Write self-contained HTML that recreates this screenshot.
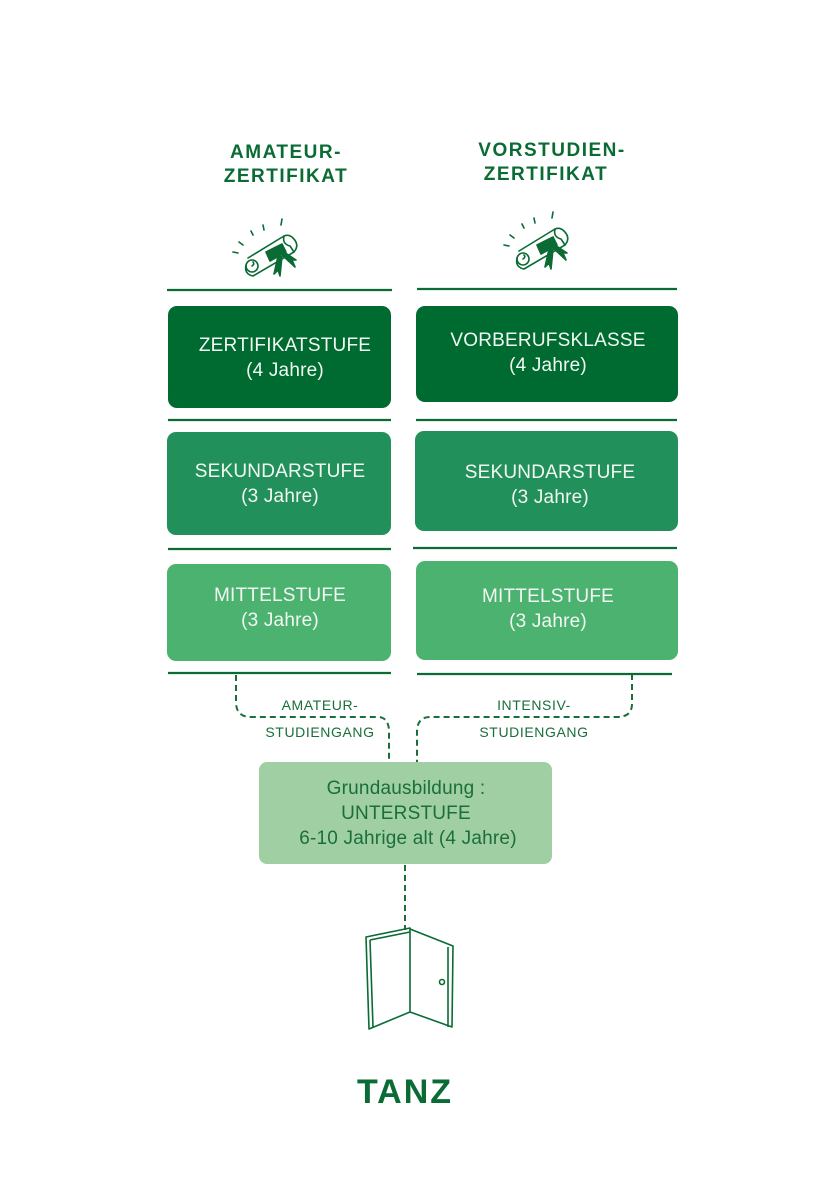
<!DOCTYPE html>
<html><head><meta charset="utf-8"><style>
html,body{margin:0;padding:0;background:#fff}
svg{display:block}
text{font-family:"Liberation Sans",sans-serif}
.h{font-weight:bold;font-size:19px;fill:#0a6b34;letter-spacing:1.5px}
.w{fill:#f2f8f3;font-size:19px;letter-spacing:0.2px}
.s{fill:#1a6e3a;font-size:14px;letter-spacing:0.6px}
.g{fill:#1a6e3a;font-size:19px;letter-spacing:0.2px}
</style></head><body>
<svg width="820" height="1200" viewBox="0 0 820 1200" xmlns="http://www.w3.org/2000/svg">
<g text-anchor="middle">
<text class="h" x="286" y="158">AMATEUR-</text>
<text class="h" x="286" y="182">ZERTIFIKAT</text>
<text class="h" x="552" y="156">VORSTUDIEN-</text>
<text class="h" x="546" y="180">ZERTIFIKAT</text>
</g>
<!-- diplomas -->
<g fill="none" stroke="#0a6b34" stroke-width="1.6" stroke-linecap="round" stroke-linejoin="round">
<g id="dip">
<path d="M246 265 Q244 274 253 276 L294 252 Q300 245 293 238 Q289 234 284 236 L248 258"/>
<path d="M284 236 Q282 244 290 246 L294 252"/>
<circle cx="252" cy="266" r="6"/>
<path d="M252 266 q3 -2 1 -4"/>
<path d="M266 252 L282 244 L286 252 L270 261 Z" fill="#0a6b34"/>
<path d="M278 256 l-4 18 l4 -4 l2 6 l2 -20 M281 254 l14 13 l-3 -7 l4 0 l-12 -8" fill="#0a6b34"/>
<path d="M233 252 l5 1 M239 242 l4 3 M251 231 l2 4 M263 225 l1 5 M282 219 l-1 6"/>
</g>
<use href="#dip" transform="translate(271,-7)"/>
</g>
<!-- lines -->
<g stroke="#0a6b34" stroke-width="2.2">
<line x1="167" y1="290" x2="392" y2="290"/><line x1="417" y1="289" x2="677" y2="289"/>
<line x1="168" y1="420" x2="391" y2="420"/><line x1="416" y1="420" x2="677" y2="420"/>
<line x1="168" y1="549" x2="391" y2="549"/><line x1="413" y1="548" x2="677" y2="548"/>
<line x1="168" y1="673" x2="391" y2="673"/><line x1="417" y1="674" x2="672" y2="674"/>
</g>
<!-- boxes -->
<rect x="168" y="306" width="223" height="102" rx="9" fill="#006b30"/>
<rect x="416" y="306" width="262" height="96" rx="9" fill="#006b30"/>
<rect x="167" y="432" width="224" height="103" rx="9" fill="#22905a"/>
<rect x="415" y="431" width="263" height="100" rx="9" fill="#22905a"/>
<rect x="167" y="564" width="224" height="97" rx="9" fill="#4bb26f"/>
<rect x="416" y="561" width="262" height="99" rx="9" fill="#4bb26f"/>
<rect x="259" y="762" width="293" height="102" rx="8" fill="#a1cfa4"/>
<g text-anchor="middle">
<text class="w" x="285" y="351">ZERTIFIKATSTUFE</text>
<text class="w" x="285" y="376">(4 Jahre)</text>
<text class="w" x="548" y="346">VORBERUFSKLASSE</text>
<text class="w" x="548" y="371">(4 Jahre)</text>
<text class="w" x="280" y="477">SEKUNDARSTUFE</text>
<text class="w" x="280" y="502">(3 Jahre)</text>
<text class="w" x="550" y="478">SEKUNDARSTUFE</text>
<text class="w" x="550" y="503">(3 Jahre)</text>
<text class="w" x="280" y="601">MITTELSTUFE</text>
<text class="w" x="280" y="626">(3 Jahre)</text>
<text class="w" x="548" y="602">MITTELSTUFE</text>
<text class="w" x="548" y="627">(3 Jahre)</text>
<text class="s" x="320" y="710">AMATEUR-</text>
<text class="s" x="320" y="737">STUDIENGANG</text>
<text class="s" x="534" y="710">INTENSIV-</text>
<text class="s" x="534" y="737">STUDIENGANG</text>
<text class="g" x="406" y="794">Grundausbildung :</text>
<text class="g" x="406" y="819">UNTERSTUFE</text>
<text class="g" x="408" y="844">6-10 Jahrige alt (4 Jahre)</text>
<text x="405" y="1103" font-weight="bold" font-size="34" fill="#0a6b34" letter-spacing="2">TANZ</text>
</g>
<!-- dashed -->
<g fill="none" stroke="#1a6e3a" stroke-width="2" stroke-dasharray="6 4">
<path d="M236 675 V702 Q236 717 251 717 H378 Q388 717 389 730 V762"/>
<path d="M632 674 V704 Q632 717 617 717 H430 Q418 717 417 730 V762"/>
<path d="M405 865 V930"/>
</g>
<!-- door -->
<g fill="none" stroke="#0a6b34" stroke-width="1.6" stroke-linejoin="round">
<path d="M366 937 L410 928 L410 1012 L369 1029 Z"/>
<path d="M370 940 L410 932 M370 940 L373 1027"/>
<path d="M410 929 L453 946 L452 1027 L410 1012"/>
<path d="M448 947 L448 1027"/>
<circle cx="442" cy="982" r="2.5"/>
</g>
</svg>
</body></html>
